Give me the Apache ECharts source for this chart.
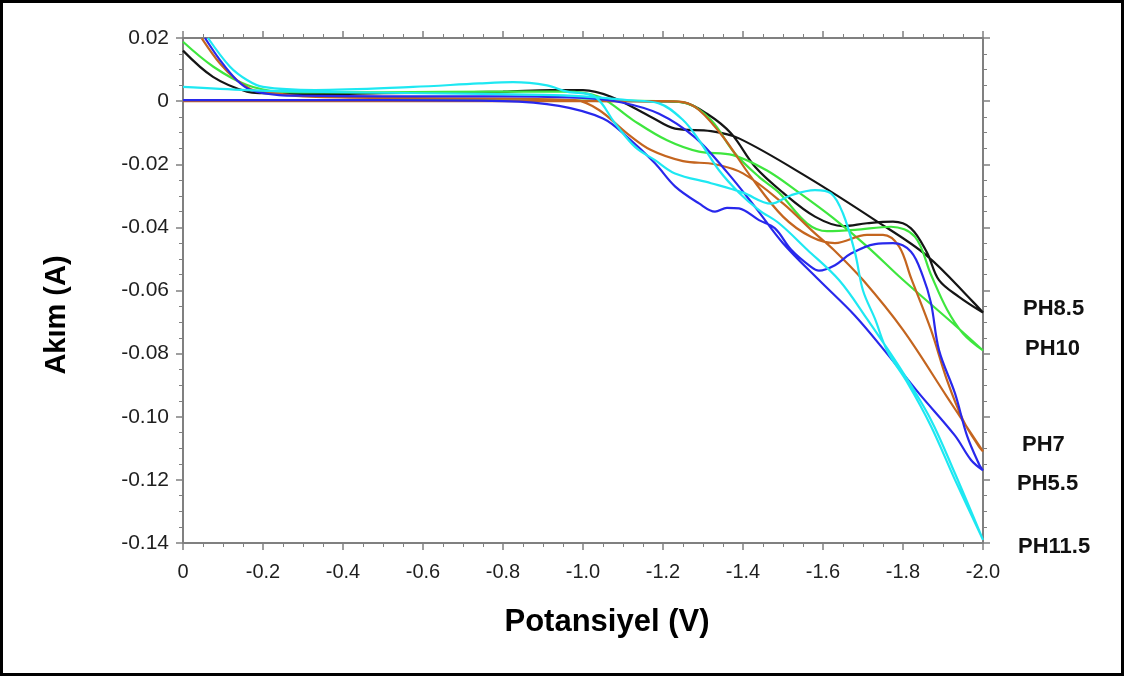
<!DOCTYPE html>
<html>
<head>
<meta charset="utf-8">
<script src="https://cdn.jsdelivr.net/npm/echarts@6/dist/echarts.min.js"></script>
<style>
html,body{margin:0;padding:0;background:#fff;}
#chart{width:1125px;height:677px;}
</style>
</head>
<body>
<div id="chart"></div>
<script>
// ---- Data: [Potansiyel (V), Akım (A)] pairs, ordered along each voltammetric loop ----
const xTicks = [0, -0.2, -0.4, -0.6, -0.8, -1.0, -1.2, -1.4, -1.6, -1.8, -2.0];
const yTicks = [0.02, 0, -0.02, -0.04, -0.06, -0.08, -0.10, -0.12, -0.14];
const seriesNames = ['PH8.5', 'PH10', 'PH7', 'PH5.5', 'PH11.5'];

const ph85 = [
  [0, 0.0003], [-0.4, 0.0003], [-0.8, 0.0002], [-1.1, 0.0], [-1.2, -0.0001], [-1.25, -0.0004],
  [-1.31, -0.004], [-1.37, -0.0102], [-1.43, -0.0208], [-1.5, -0.029], [-1.58, -0.0366],
  [-1.65, -0.0396], [-1.71, -0.0387], [-1.775, -0.0382], [-1.82, -0.0403], [-1.86, -0.048],
  [-1.89, -0.0567], [-1.94, -0.062], [-2.0, -0.067],
  [-1.975, -0.0636], [-1.86, -0.049], [-1.73, -0.0377], [-1.56, -0.024], [-1.39, -0.0118],
  [-1.32, -0.0095], [-1.23, -0.0087], [-1.17, -0.005], [-1.07, 0.0014], [-1.0, 0.0035],
  [-0.92, 0.0035], [-0.8, 0.003], [-0.5, 0.0025], [-0.3, 0.0022], [-0.2, 0.0025],
  [-0.16, 0.003], [-0.075, 0.0077], [0, 0.016]
];

const ph10 = [
  [0, 0.0003], [-0.5, 0.0003], [-1.0, 0.0002], [-1.2, 0.0], [-1.26, -0.0007], [-1.32, -0.006],
  [-1.38, -0.0166], [-1.44, -0.024], [-1.49, -0.029], [-1.56, -0.0387], [-1.61, -0.0412],
  [-1.68, -0.0408], [-1.77, -0.0398], [-1.83, -0.043], [-1.87, -0.055], [-1.91, -0.066],
  [-1.95, -0.0736], [-2.0, -0.079],
  [-1.93, -0.071], [-1.83, -0.06], [-1.79, -0.0555], [-1.71, -0.046], [-1.625, -0.037],
  [-1.54, -0.029], [-1.46, -0.022], [-1.375, -0.0171], [-1.29, -0.016], [-1.21, -0.0124],
  [-1.125, -0.006], [-1.04, 0.0014], [-0.95, 0.003], [-0.8, 0.003], [-0.5, 0.0028],
  [-0.3, 0.0028], [-0.24, 0.003], [-0.16, 0.0051], [-0.076, 0.0109], [0, 0.0188]
];

const ph7 = [
  [0, 0.0], [-0.5, 0.0], [-1.0, 0.0], [-1.2, 0.0], [-1.25, -0.0003], [-1.29, -0.0028],
  [-1.35, -0.0113], [-1.42, -0.024], [-1.5, -0.0366], [-1.57, -0.043], [-1.63, -0.045],
  [-1.71, -0.0424], [-1.75, -0.0424], [-1.79, -0.046], [-1.82, -0.056], [-1.87, -0.0725],
  [-1.91, -0.0884], [-1.95, -0.101], [-1.99, -0.1095], [-2.0, -0.111],
  [-1.91, -0.0937], [-1.80, -0.0725], [-1.70, -0.0567], [-1.626, -0.047], [-1.58, -0.0419],
  [-1.5, -0.0324], [-1.4, -0.0229], [-1.33, -0.020], [-1.25, -0.019], [-1.17, -0.0155],
  [-1.11, -0.0102], [-1.04, -0.0028], [-0.98, 0.0003], [-0.8, 0.0008], [-0.5, 0.001],
  [-0.3, 0.0015], [-0.24, 0.0024], [-0.175, 0.0035], [-0.134, 0.0067], [-0.0925, 0.0119],
  [-0.047, 0.0199]
];

const ph55 = [
  [0, 0.0003], [-0.5, 0.0003], [-0.8, 0.0], [-0.94, -0.0015], [-1.05, -0.0055], [-1.11, -0.0113],
  [-1.18, -0.0197], [-1.23, -0.027], [-1.29, -0.0324], [-1.33, -0.035], [-1.36, -0.0338],
  [-1.39, -0.034], [-1.44, -0.0377], [-1.48, -0.0403], [-1.52, -0.047], [-1.57, -0.0525],
  [-1.59, -0.0537], [-1.63, -0.052], [-1.67, -0.0483], [-1.73, -0.0453], [-1.775, -0.045],
  [-1.82, -0.0477], [-1.85, -0.0556], [-1.87, -0.064], [-1.89, -0.0789], [-1.93, -0.0926],
  [-1.96, -0.106], [-1.99, -0.115], [-2.0, -0.117],
  [-1.97, -0.1137], [-1.93, -0.106], [-1.84, -0.0926], [-1.76, -0.080], [-1.68, -0.068],
  [-1.59, -0.0567], [-1.5, -0.045], [-1.43, -0.0335], [-1.36, -0.0225], [-1.28, -0.0115],
  [-1.19, -0.004], [-1.1, -0.0005], [-1.0, 0.001], [-0.8, 0.0015], [-0.5, 0.0015],
  [-0.3, 0.0017], [-0.24, 0.0019], [-0.17, 0.0035], [-0.134, 0.0067], [-0.0925, 0.013],
  [-0.055, 0.02]
];

const ph115 = [
  [0, 0.0045], [-0.16, 0.0035], [-0.3, 0.003], [-0.6, 0.0025], [-0.9, 0.002], [-1.0, 0.0015],
  [-1.11, 0.0003], [-1.19, -0.0007], [-1.25, -0.006], [-1.29, -0.0124], [-1.34, -0.0219],
  [-1.39, -0.029], [-1.44, -0.0345], [-1.49, -0.0387], [-1.56, -0.047], [-1.64, -0.0567],
  [-1.71, -0.069], [-1.80, -0.086], [-1.87, -0.101], [-1.93, -0.118], [-2.0, -0.139],
  [-1.93, -0.120], [-1.87, -0.103], [-1.81, -0.089], [-1.76, -0.079], [-1.73, -0.069],
  [-1.70, -0.060], [-1.68, -0.048], [-1.65, -0.0356], [-1.62, -0.0292], [-1.58, -0.0282],
  [-1.52, -0.0298], [-1.47, -0.0325], [-1.40, -0.029], [-1.32, -0.026], [-1.23, -0.0229],
  [-1.18, -0.0187], [-1.13, -0.0145], [-1.08, -0.007], [-1.03, 0.0014], [-0.96, 0.003],
  [-0.91, 0.005], [-0.825, 0.006], [-0.74, 0.0056], [-0.575, 0.0045], [-0.33, 0.0035],
  [-0.2, 0.0045], [-0.16, 0.0067], [-0.1175, 0.0109], [-0.0625, 0.02]
];

const seriesData = [ph85, ph10, ph7, ph55, ph115];
const seriesColors = ['#151515', '#3ee63e', '#c4651f', '#2828ec', '#1ee8f2'];

// ---- Chart ----
const chart = echarts.init(document.getElementById('chart'), null, {renderer: 'canvas'});
const axisGray = '#808080';
const fmtX = v => Math.abs(v) < 1e-9 ? '0' : v.toFixed(1);
const fmtY = v => Math.abs(v) < 1e-9 ? '0' : v.toFixed(2);

function xAx(pos, showLabel) {
  return {
    type: 'value', position: pos, min: xTicks[xTicks.length - 1], max: xTicks[0], interval: 0.2,
    inverse: true,
    axisLine: {show: true, onZero: false, lineStyle: {color: axisGray, width: 2}},
    axisTick: {show: true, length: 7, lineStyle: {color: axisGray, width: 1.5}},
    minorTick: {show: true, splitNumber: 4, length: 4, lineStyle: {color: axisGray, width: 1}},
    splitLine: {show: false},
    axisLabel: {show: showLabel, formatter: fmtX, margin: 19, color: '#1e1e1e',
      fontSize: 20, fontFamily: "'Liberation Sans', Arial, sans-serif"}
  };
}
function yAx(pos, showLabel) {
  return {
    type: 'value', position: pos, min: yTicks[yTicks.length - 1], max: yTicks[0], interval: 0.02,
    axisLine: {show: true, onZero: false, lineStyle: {color: axisGray, width: 2}},
    axisTick: {show: true, length: 7, lineStyle: {color: axisGray, width: 1.5}},
    minorTick: {show: true, splitNumber: 4, length: 4, lineStyle: {color: axisGray, width: 1}},
    splitLine: {show: false},
    axisLabel: {show: showLabel, formatter: fmtY, margin: 14, color: '#1e1e1e',
      fontSize: 21, fontFamily: "'Liberation Sans', Arial, sans-serif"}
  };
}

const series = seriesData.map((d, i) => ({
  name: seriesNames[i], type: 'line', data: d, smooth: 0.35, showSymbol: false,
  xAxisIndex: 0, yAxisIndex: 0, clip: true,
  lineStyle: {color: seriesColors[i], width: 2.2}, itemStyle: {color: seriesColors[i]},
  z: 3 + i
}));

const labelPos = [[1023, 310], [1025, 350], [1022, 446], [1017, 485], [1018, 548]];
const labelGraphics = seriesNames.map((n, i) => ({
  type: 'text', left: labelPos[i][0], top: labelPos[i][1] - 12,
  style: {text: n, fill: '#111', font: "bold 22px 'Liberation Sans', Arial, sans-serif"}
}));

chart.setOption({
  backgroundColor: '#fff',
  animation: false,
  grid: {left: 183, right: 142, top: 38, bottom: 134, containLabel: false},
  xAxis: [xAx('bottom', true), xAx('top', false)],
  yAxis: [yAx('left', true), yAx('right', false)],
  series: series,
  graphic: [
    {type: 'rect', shape: {x: 1.5, y: 1.5, width: 1121, height: 673},
     style: {fill: 'none', stroke: '#000', lineWidth: 3}, silent: true},
    {type: 'text', x: 57, y: 315, rotation: Math.PI / 2,
     style: {text: 'Akım (A)', fill: '#000', font: "bold 29px 'Liberation Sans', Arial, sans-serif",
       textAlign: 'center', textVerticalAlign: 'middle'}},
    {type: 'text', x: 607, y: 622,
     style: {text: 'Potansiyel (V)', fill: '#000', font: "bold 31px 'Liberation Sans', Arial, sans-serif",
       textAlign: 'center', textVerticalAlign: 'middle'}}
  ].concat(labelGraphics)
});
</script>
</body>
</html>
